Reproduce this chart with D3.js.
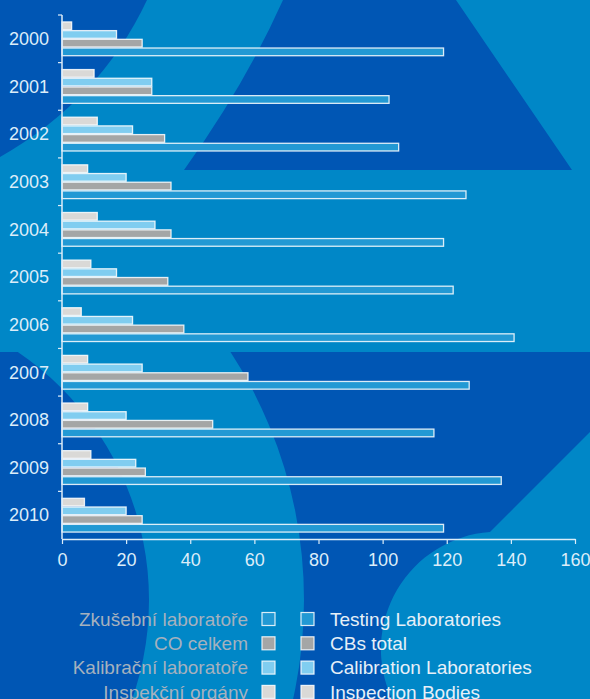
<!DOCTYPE html>
<html>
<head>
<meta charset="utf-8">
<script src="https://cdn.jsdelivr.net/npm/d3@7"></script>
<style>
  body { margin: 0; background: #0087c7; }
  svg { display: block; }
  text { font-family: "Liberation Sans", Arial, sans-serif; }
</style>
</head>
<body>
<script>
// data
var years = ["2000", "2001", "2002", "2003", "2004", "2005", "2006", "2007", "2008", "2009", "2010"];
var testing = [119, 102, 105, 126, 119, 122, 141, 127, 116, 137, 119];
var cbsTotal = [25, 28, 32, 34, 34, 33, 38, 58, 47, 26, 25];
var calibration = [17, 28, 22, 20, 29, 17, 22, 25, 20, 23, 20];
var inspection = [3, 10, 11, 8, 11, 9, 6, 8, 8, 9, 7];

var xTicks = [0, 20, 40, 60, 80, 100, 120, 140, 160];

// legend rows, top to bottom
var legendKeys = ["testing", "cbs", "calibration", "inspection"];
var czLabels = ["Zkušební laboratoře", "CO celkem", "Kalibrační laboratoře", "Inspekční orgány"];
var enLabels = ["Testing Laboratories", "CBs total", "Calibration Laboratories", "Inspection Bodies"];

// bar order inside one year, top to bottom
var barKeys = ["inspection", "calibration", "cbs", "testing"];
var colors = {
  testing: "#2299d4",
  cbs: "#a4a6a6",
  calibration: "#80cdf0",
  inspection: "#dad9d7"
};

var rows = years.map(function(y, i) {
  return {
    year: y,
    testing: testing[i],
    cbs: cbsTotal[i],
    calibration: calibration[i],
    inspection: inspection[i]
  };
});

var svgWidth = 590, svgHeight = 699;
var light = "#0087c7", dark = "#0056b4";

var svg = d3.select("body").append("svg")
  .attr("width", svgWidth)
  .attr("height", svgHeight);

// background shapes
//=================================
var bg = svg.append("g");
bg.append("rect").attr("width", svgWidth).attr("height", svgHeight).attr("fill", light);
bg.append("path").attr("d", "M0,0H147Q100,100 0,157Z").attr("fill", dark);
bg.append("path").attr("d", "M283,0H456L572,170H184Q245,85 283,0Z").attr("fill", dark);
bg.append("rect").attr("y", 352).attr("width", svgWidth).attr("height", svgHeight - 352).attr("fill", dark);

svg.append("clipPath").attr("id", "lowclip")
  .append("rect").attr("y", 352).attr("width", svgWidth).attr("height", svgHeight - 352);

// light ring in the lower half (clip on the outer group so it stays in page coordinates)
var ring = d3.arc().innerRadius(300).outerRadius(455).startAngle(0).endAngle(2 * Math.PI);
bg.append("g")
  .attr("clip-path", "url(#lowclip)")
  .append("path")
  .attr("d", ring())
  .attr("transform", "translate(-151,600)")
  .attr("fill", light);
bg.append("path")
  .attr("d", "M590,432L490,532A117.5,117.5 0 0 0 392,699L590,699Z")
  .attr("fill", light);

// scales
//=================================
var x = d3.scaleLinear().domain([0, 160]).range([62, 575]);

var y0 = d3.scaleBand()
  .domain(years)
  .range([15, 539])
  .paddingInner(0.27)
  .paddingOuter(0.135);

var y1 = d3.scaleBand()
  .domain(barKeys)
  .range([0, y0.bandwidth()]);

var textColor = "#dcedf9";

// bars
var yearGroups = svg.append("g").selectAll("g")
  .data(rows)
  .enter()
  .append("g")
  .attr("transform", function(d) { return "translate(0," + y0(d.year) + ")"; });

yearGroups.selectAll("rect")
  .data(function(d) { return barKeys.map(function(k) { return { key: k, value: d[k] }; }); })
  .enter()
  .append("rect")
  .attr("x", x(0))
  .attr("y", function(d) { return y1(d.key) + 0.5; })
  .attr("width", function(d) { return x(d.value) - x(0); })
  .attr("height", y1.bandwidth() - 1)
  .attr("fill", function(d) { return colors[d.key]; })
  .attr("stroke", "#ffffff")
  .attr("stroke-opacity", 0.85)
  .attr("stroke-width", 1.3);

// y axis: line, boundary ticks, year labels
var yAxis = svg.append("g");
var step = y0.step();
yAxis.append("line")
  .attr("x1", x(0)).attr("x2", x(0))
  .attr("y1", y0.range()[0]).attr("y2", y0.range()[1])
  .attr("stroke", textColor).attr("stroke-width", 1.5);
yAxis.selectAll(".bt")
  .data(d3.range(years.length))
  .enter()
  .append("line")
  .attr("x1", x(0) - 4).attr("x2", x(0))
  .attr("y1", function(i) { return y0.range()[0] + i * step; })
  .attr("y2", function(i) { return y0.range()[0] + i * step; })
  .attr("stroke", textColor).attr("stroke-width", 1.2);
yAxis.selectAll(".yl")
  .data(years)
  .enter()
  .append("text")
  .attr("x", 49)
  .attr("y", function(d) { return y0(d) + y0.bandwidth() / 2; })
  .attr("dy", "0.35em")
  .attr("text-anchor", "end")
  .attr("font-size", "18px")
  .attr("fill", textColor)
  .text(function(d) { return d; });

// x axis
var xAxis = svg.append("g")
  .attr("transform", "translate(0,539)")
  .call(d3.axisBottom(x).tickValues(xTicks).tickSize(5).tickSizeOuter(0).tickPadding(9));
xAxis.select(".domain").attr("stroke", textColor).attr("stroke-width", 1.5);
xAxis.selectAll(".tick line").attr("stroke", textColor).attr("stroke-width", 1.2);
xAxis.selectAll(".tick text")
  .attr("fill", textColor)
  .attr("font-size", "18px")
  .attr("font-family", "Liberation Sans, Arial, sans-serif");

// legend
//=================================
var legend = svg.append("g").selectAll("g")
  .data(legendKeys)
  .enter()
  .append("g")
  .attr("transform", function(d, i) { return "translate(0," + (619 + i * 24.3) + ")"; });

legend.append("text")
  .attr("x", 248)
  .attr("dy", "0.35em")
  .attr("text-anchor", "end")
  .attr("font-size", "19px")
  .attr("fill", "#a5b1be")
  .text(function(d, i) { return czLabels[i]; });

[262, 301].forEach(function(sx) {
  legend.append("rect")
    .attr("x", sx)
    .attr("y", -6.5)
    .attr("width", 13)
    .attr("height", 13)
    .attr("fill", function(d) { return colors[d]; })
    .attr("stroke", "#ffffff")
    .attr("stroke-opacity", 0.85)
    .attr("stroke-width", 1.2);
});

legend.append("text")
  .attr("x", 330)
  .attr("dy", "0.35em")
  .attr("font-size", "19px")
  .attr("fill", "#e6f0f8")
  .text(function(d, i) { return enLabels[i]; });
</script>
</body>
</html>
